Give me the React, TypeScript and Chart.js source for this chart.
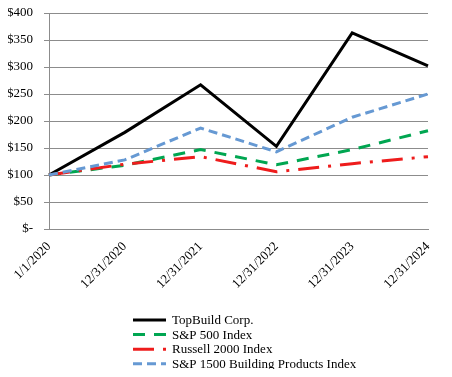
import React, { useEffect, useRef } from "react";
import { Chart, registerables } from "chart.js";

Chart.register(...registerables);

const categories = ["1/1/2020", "12/31/2020", "12/31/2021", "12/31/2022", "12/31/2023", "12/31/2024"];
const topBuild = [100, 179, 267, 153, 363, 302];
const sp500 = [100, 118, 147, 119, 147, 182];
const russell2000 = [100, 120, 134, 106, 121, 134];
const sp1500Building = [100, 128, 187, 143, 207, 250];
const seriesNames = ["TopBuild Corp.", "S&P 500 Index", "Russell 2000 Index", "S&P 1500 Building Products Index"];
const yMin = 0;
const yMax = 400;
const yStep = 50;

const FONT = "'Liberation Serif', 'Times New Roman', serif";

const legendPlugin = {
  id: "columnLegend",
  afterDraw(chart: any) {
    const ctx = chart.ctx;
    const ds = chart.data.datasets;
    const x0 = 125;
    const lineW = 33;
    const y0 = 312;
    const rowH = 14.6;
    ctx.save();
    ctx.font = `13px ${FONT}`;
    ctx.textBaseline = "middle";
    ctx.textAlign = "left";
    ds.forEach((d: any, i: number) => {
      const y = y0 + i * rowH;
      ctx.beginPath();
      ctx.setLineDash(d.borderDash || []);
      ctx.lineWidth = 3;
      ctx.strokeStyle = d.borderColor;
      ctx.lineCap = "butt";
      ctx.moveTo(x0, y);
      ctx.lineTo(x0 + lineW, y);
      ctx.stroke();
      ctx.setLineDash([]);
      ctx.fillStyle = "#000";
      ctx.fillText(d.label, x0 + lineW + 6, y + 0.5);
    });
    ctx.restore();
  },
};

export default function App() {
  const ref = useRef<HTMLCanvasElement | null>(null);
  useEffect(() => {
    if (!ref.current) return;
    const chart = new Chart(ref.current, {
      type: "line",
      data: {
        labels: categories,
        datasets: [
          { label: seriesNames[0], data: topBuild, borderColor: "#000000", borderWidth: 3, pointRadius: 0, order: 3, tension: 0 },
          { label: seriesNames[1], data: sp500, borderColor: "#00A651", borderWidth: 3, borderDash: [12, 9], pointRadius: 0, order: 2, tension: 0 },
          { label: seriesNames[2], data: russell2000, borderColor: "#EE1C1C", borderWidth: 3, borderDash: [21, 9, 3, 9], pointRadius: 0, order: 1, tension: 0 },
          { label: seriesNames[3], data: sp1500Building, borderColor: "#6699D3", borderWidth: 3, borderDash: [9, 5], pointRadius: 0, order: 0, tension: 0 },
        ],
      },
      options: {
        responsive: true,
        maintainAspectRatio: false,
        animation: false,
        layout: { padding: { top: 5, right: 16, left: 0, bottom: 0 } },
        plugins: { legend: { display: false }, tooltip: { enabled: false } },
        scales: {
          x: {
            grid: { display: false },
            border: { display: true, color: "#8c8c8c", width: 1 },
            ticks: {
              maxRotation: 45,
              minRotation: 45,
              color: "#000",
              padding: 2,
              font: { family: FONT, size: 13 },
            },
            afterFit(scale: any) {
              scale.height = 140;
              scale.paddingLeft = 0;
              scale.paddingRight = 0;
            },
          },
          y: {
            min: yMin,
            max: yMax,
            grid: { color: "#8c8c8c", lineWidth: 1, tickLength: 5, drawTicks: true },
            border: { display: true, color: "#8c8c8c", width: 1 },
            ticks: {
              stepSize: yStep,
              color: "#000",
              padding: 11,
              font: { family: FONT, size: 13 },
              callback: (v: any) => (Number(v) === 0 ? "$-" : "$" + v),
            },
            afterFit(scale: any) {
              scale.width = 41;
              scale.paddingTop = 0;
              scale.paddingBottom = 0;
            },
          },
        },
      },
      plugins: [legendPlugin],
    });
    return () => chart.destroy();
  }, []);
  return (
    <div style={{ width: 436, height: 361, position: "relative" }}>
      <canvas ref={ref} />
    </div>
  );
}
